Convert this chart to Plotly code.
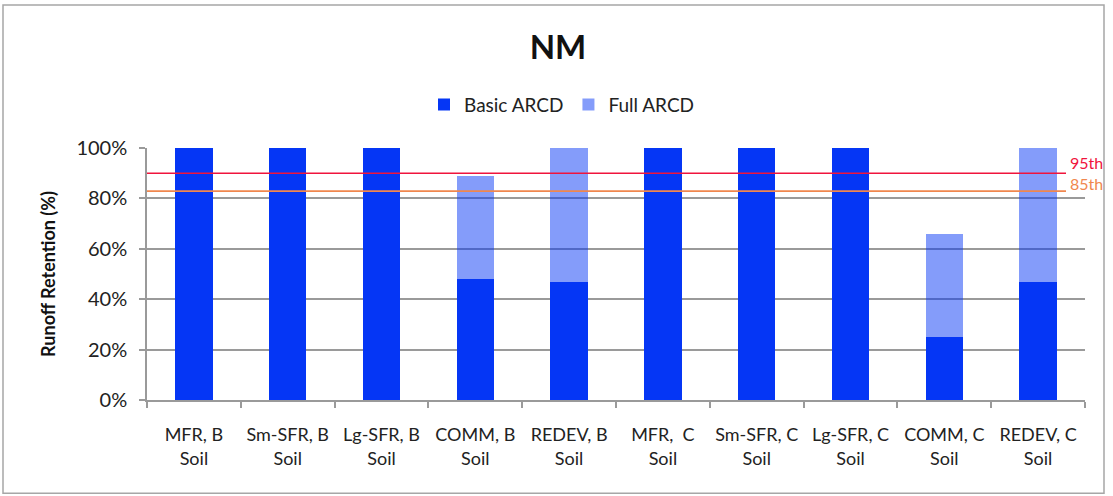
import plotly.graph_objects as go

# Runoff retention by land-use type and soil group, NM
categories = ["MFR, B<br>Soil", "Sm-SFR, B<br>Soil", "Lg-SFR, B<br>Soil", "COMM, B<br>Soil",
              "REDEV, B<br>Soil", "MFR,  C<br>Soil", "Sm-SFR, C<br>Soil", "Lg-SFR, C<br>Soil",
              "COMM, C<br>Soil", "REDEV, C<br>Soil"]
basic_arcd = [100, 100, 100, 48, 47, 100, 100, 100, 25, 47]
full_arcd_extra = [0, 0, 0, 41, 53, 0, 0, 0, 41, 53]
percentile_95 = 90.0
percentile_85 = 82.9
y_ticks = [0, 20, 40, 60, 80, 100]
y_tick_labels = ["0%", "20%", "40%", "60%", "80%", "100%"]

W, H = 1113, 496
L, R, T, B = 147, 28, 147.5, 95.5
pw, ph = W - L - R, H - T - B

FONT = "Lato, 'Open Sans', sans-serif"
DARK = "#0536F5"
LIGHT = "rgba(5,54,245,0.49)"

fig = go.Figure()
fig.add_trace(go.Bar(x=categories, y=basic_arcd, name="Basic ARCD",
                     marker=dict(color=DARK, line=dict(width=0))))
fig.add_trace(go.Bar(x=categories, y=full_arcd_extra, name="Full ARCD",
                     marker=dict(color=LIGHT, line=dict(width=0))))

line_end = (1066 - L) / pw
for val, col in [(percentile_95, "#F0143C"), (percentile_85, "#F0874E")]:
    fig.add_shape(type="line", xref="paper", yref="y", x0=0, x1=line_end, y0=val, y1=val,
                  line=dict(color=col, width=1.6), layer="above")
for val, col, lab, dy in [(percentile_95, "#F0143C", "95th", 11),
                          (percentile_85, "#F0874E", "85th", 8)]:
    fig.add_annotation(xref="paper", yref="y", x=(1069 - L) / pw, y=val, text=lab,
                       showarrow=False, xanchor="left", yanchor="middle", yshift=dy,
                       borderpad=0, font=dict(family=FONT, size=16, color=col))

# outer frame
fig.add_shape(type="rect", xref="paper", yref="paper",
              x0=(3 - L) / pw, x1=(1104 - L) / pw,
              y0=(H - B - 494) / ph, y1=(H - B - 4) / ph,
              line=dict(color="#A6A6A6", width=1.5), fillcolor="rgba(0,0,0,0)", layer="below")

fig.update_layout(
    width=W, height=H,
    margin=dict(l=L, r=R, t=T, b=B, autoexpand=False),
    barmode="stack", bargap=0.6,
    paper_bgcolor="white", plot_bgcolor="white",
    font=dict(family=FONT, size=18, color="#222"),
    title=dict(text="<b>NM</b>", x=(558 - L) / pw, xref="paper", xanchor="center",
               y=1 - 47 / H, yanchor="middle", font=dict(family=FONT, size=33, color="#111")),
    legend=dict(orientation="h", x=(562 - L) / pw, xanchor="center", y=(H - B - 104) / ph,
                yanchor="middle", font=dict(family=FONT, size=19, color="#222"),
                itemwidth=30, traceorder="normal", bgcolor="rgba(0,0,0,0)"),
    showlegend=True,
)
fig.update_yaxes(range=[0, 100], tickvals=y_ticks, ticktext=y_tick_labels,
                 showgrid=True, gridcolor="#9A9A9A", gridwidth=1.5,
                 showline=True, linecolor="#9A9A9A", linewidth=1.5,
                 ticks="outside", ticklen=6, tickcolor="#9A9A9A", tickwidth=1.5,
                 ticklabelstandoff=8,
                 tickfont=dict(family=FONT, size=20, color="#222"),
                 title=dict(text="<b>Runoff Retention (%)</b>", standoff=16,
                            font=dict(family=FONT, size=18, color="#111")),
                 zeroline=False)
fig.update_xaxes(showline=True, linecolor="#9A9A9A", linewidth=1.5,
                 ticks="outside", ticklen=6, tickcolor="#9A9A9A", tickwidth=1.5,
                 tickson="boundaries", showgrid=False, tickangle=0,
                 tickfont=dict(family=FONT, size=18, color="#222"),
                 ticklabelstandoff=18)

fig.write_html("out.html")
